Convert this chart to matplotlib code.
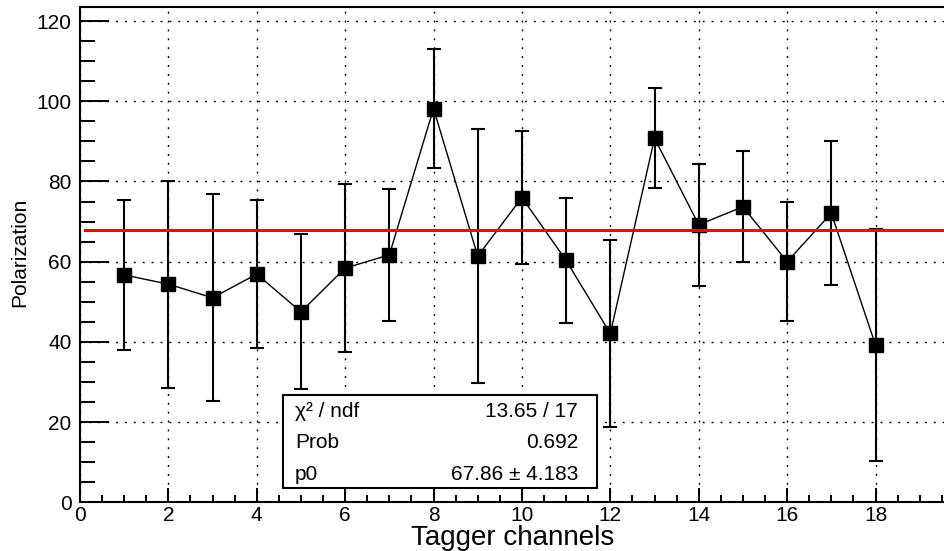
import numpy as np
import matplotlib
matplotlib.use('Agg')
import matplotlib.pyplot as plt
from matplotlib.ticker import MultipleLocator
from matplotlib.patches import Rectangle

plt.rcParams['font.family'] = ['Liberation Sans', 'DejaVu Sans']

# data
channels = np.arange(1, 19)
polarization = [56.7, 54.4, 51.0, 56.9, 47.5, 58.4, 61.7, 98.2, 61.4,
                76.0, 60.3, 42.1, 90.8, 69.2, 73.7, 60.0, 72.1, 39.2]
pol_err = [18.7, 25.8, 25.8, 18.5, 19.3, 21.0, 16.4, 14.8, 31.6,
           16.5, 15.5, 23.2, 12.4, 15.2, 13.8, 14.8, 17.9, 29.0]
fit_p0 = 67.86
fit_range = [0.12, 20]
x_major = list(range(0, 19, 2))
stats_names = ['χ² / ndf', 'Prob', 'p0']
stats_values = ['13.65 / 17', '0.692', '67.86 ± 4.183']

fig = plt.figure(figsize=(9.44, 5.51), dpi=100)
ax = fig.add_axes([0.0847, 0.0884, 0.9364, 0.8995])

#### grid + frame
ax.set_xlim(0, 20)
ax.set_ylim(0, 123.6)
ax.set_xticks(x_major)
ax.xaxis.set_minor_locator(MultipleLocator(0.5))
ax.yaxis.set_major_locator(MultipleLocator(20))
ax.yaxis.set_minor_locator(MultipleLocator(5))
ax.grid(True, which='major', color='black', linestyle=(0, (1.4, 5)), linewidth=1.0)
ax.set_axisbelow(True)
for side in ['left', 'bottom', 'top', 'right']:
    ax.spines[side].set_linewidth(1.5)
ax.tick_params(axis='both', which='both', direction='in', top=False, right=False,
               width=1.4, labelsize=15)
ax.tick_params(axis='y', which='major', length=21, pad=6)
ax.tick_params(axis='y', which='minor', length=10.8)
ax.tick_params(axis='x', which='major', length=10, pad=3)
ax.tick_params(axis='x', which='minor', length=5)

#### data points + fit
ax.errorbar(channels, polarization, yerr=pol_err, fmt='none', ecolor='black',
            elinewidth=1.5, capsize=4.7, capthick=1.5, zorder=3)
ax.plot(channels, polarization, color='black', linewidth=1.0, marker='s',
        markersize=9.5, markerfacecolor='black', markeredgecolor='black', zorder=4)
ax.plot(fit_range, [fit_p0, fit_p0], color='#ff0000', linewidth=2.2, zorder=5)

#### labels
ax.set_xlabel('Tagger channels', fontsize=20, va='baseline')
ax.xaxis.set_label_coords(0.489, -0.086)
ax.set_ylabel('Polarization', fontsize=15, va='center')
ax.yaxis.set_label_coords(-0.068, 0.505)

#### stats box
ax.add_patch(Rectangle((0.2296, 0.0289), 0.3552, 0.1876, transform=ax.transAxes,
                       facecolor='white', edgecolor='black', linewidth=1.5, zorder=6))
rows_y = [0.172, 0.1096, 0.045]
for name, val, yy in zip(stats_names, stats_values, rows_y):
    ax.text(0.243, yy, name, transform=ax.transAxes, fontsize=15,
            ha='left', va='baseline', zorder=7)
    ax.text(0.5633, yy, val, transform=ax.transAxes, fontsize=15,
            ha='right', va='baseline', zorder=7)

fig.savefig('out.png', dpi=100)
